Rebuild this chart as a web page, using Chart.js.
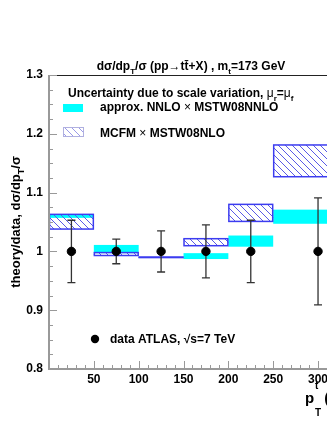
<!DOCTYPE html>
<html>
<head>
<meta charset="utf-8">
<script src="https://cdn.jsdelivr.net/npm/chart.js@4.4.1/dist/chart.umd.min.js"></script>
<style>
  html, body { margin:0; padding:0; background:#fff; }
  #c { display:block; }
</style>
</head>
<body>
<canvas id="c" width="327" height="423"></canvas>
<script>
// ----------------- DATA -----------------
const binLo  = [0, 50, 100, 150, 200, 250];
const binHi  = [50, 100, 150, 200, 250, 350];
const dataX  = [25, 75, 125, 175, 225, 300];
const dataY  = [1, 1, 1, 1, 1, 1];
const dataErr = [0.053, 0.021, 0.035, 0.045, 0.053, 0.091];
// approx. NNLO x MSTW08NNLO band
const nnloLo = [1.057, 0.997, 0.9895, 0.987, 1.008, 1.047];
const nnloHi = [1.063, 1.011, 0.9905, 0.997, 1.027, 1.071];
// MCFM x MSTW08NLO band
const mcfmLo = [1.038, 0.993, 0.9895, 1.0097, 1.051, 1.127];
const mcfmHi = [1.063, 0.998, 0.9905, 1.0216, 1.080, 1.181];
// axes
const xMin = 0, xMax = 310, xStep = 10;
const yMin = 0.8, yMax = 1.3, yStep = 0.025;
// ------------------------------------------

const FONT = 'Liberation Sans, Arial, sans-serif';
const CYAN = '#00ffff';
const BLUE = '#3c3cf0';

function makeHatch(color){
  const p = document.createElement('canvas');
  p.width = 7; p.height = 7;
  const g = p.getContext('2d');
  g.strokeStyle = color;
  g.lineWidth = 1;
  g.beginPath();
  g.moveTo(-1, -1); g.lineTo(8, 8);
  g.moveTo(-1, 6); g.lineTo(1, 8);
  g.moveTo(6, -1); g.lineTo(8, 1);
  g.stroke();
  return p;
}

// text with sub/superscripts: parts = [text, kind, font]
function richText(ctx, parts, x, y, size, align){
  const big = 'bold ' + size + 'px ' + FONT;
  const small = 'bold ' + Math.round(size * 0.7) + 'px ' + FONT;
  let w = 0;
  parts.forEach(p => { ctx.font = p[1] ? small : (p[2] || big); w += ctx.measureText(p[0]).width; });
  let cx = align === 'center' ? x - w / 2 : x;
  ctx.textAlign = 'left';
  ctx.textBaseline = 'alphabetic';
  parts.forEach(p => {
    ctx.font = p[1] ? small : (p[2] || big);
    let dy = 0;
    if (p[1] === 'sub') dy = size * 0.3;
    if (p[1] === 'sup') dy = -size * 0.45;
    ctx.fillText(p[0], cx, y + dy);
    cx += ctx.measureText(p[0]).width;
  });
  return w;
}

const bandsPlugin = {
  id: 'bands',
  beforeDatasetsDraw(chart){
    const {ctx, chartArea: a, scales: {x, y}} = chart;
    ctx.save();
    ctx.beginPath();
    ctx.rect(a.left, a.top, a.right - a.left, a.bottom - a.top);
    ctx.clip();
    // cyan NNLO bands
    ctx.fillStyle = CYAN;
    binLo.forEach((lo, i) => {
      const x0 = x.getPixelForValue(lo), x1 = x.getPixelForValue(binHi[i]);
      const y0 = y.getPixelForValue(nnloHi[i]), y1 = y.getPixelForValue(nnloLo[i]);
      ctx.fillRect(x0, y0, x1 - x0, Math.max(y1 - y0, 1));
    });
    // hatched MCFM bands
    const pat = ctx.createPattern(makeHatch('#5a5ae6'), 'repeat');
    binLo.forEach((lo, i) => {
      const x0 = x.getPixelForValue(lo), x1 = x.getPixelForValue(binHi[i]);
      const y0 = y.getPixelForValue(mcfmHi[i]), y1 = y.getPixelForValue(mcfmLo[i]);
      ctx.fillStyle = pat;
      ctx.fillRect(x0, y0, x1 - x0, y1 - y0);
      ctx.strokeStyle = BLUE;
      ctx.lineWidth = 1.5;
      ctx.strokeRect(x0 + 0.5, y0, x1 - x0 - 1, Math.max(y1 - y0, 0.5));
    });
    // error bars
    ctx.strokeStyle = '#333';
    ctx.lineWidth = 1.3;
    dataX.forEach((v, i) => {
      const px = x.getPixelForValue(v);
      const yt = y.getPixelForValue(dataY[i] + dataErr[i]);
      const yb = y.getPixelForValue(dataY[i] - dataErr[i]);
      ctx.beginPath();
      ctx.moveTo(px, yt); ctx.lineTo(px, yb);
      ctx.moveTo(px - 4, yt); ctx.lineTo(px + 4, yt);
      ctx.moveTo(px - 4, yb); ctx.lineTo(px + 4, yb);
      ctx.stroke();
    });
    ctx.restore();
  },
  afterDraw(chart){
    const {ctx, chartArea: a, scales: {x, y}} = chart;
    ctx.save();
    // frame
    ctx.strokeStyle = '#222';
    ctx.lineWidth = 1;
    ctx.beginPath();
    ctx.moveTo(a.left, a.top + 0.5); ctx.lineTo(a.right, a.top + 0.5);
    ctx.stroke();
    ctx.strokeStyle = '#999';
    ctx.lineWidth = 2;
    ctx.beginPath();
    ctx.moveTo(a.left, a.top); ctx.lineTo(a.left, a.bottom);
    ctx.lineTo(a.right, a.bottom);
    ctx.stroke();
    // inward ticks
    ctx.lineWidth = 1;
    ctx.beginPath();
    y.ticks.forEach(t => {
      const py = Math.round(y.getPixelForValue(t.value)) + 0.5;
      const major = Math.abs(t.value * 10 - Math.round(t.value * 10)) < 1e-6;
      ctx.moveTo(a.left, py); ctx.lineTo(a.left + (major ? 8 : 4), py);
    });
    x.ticks.forEach(t => {
      const px = Math.round(x.getPixelForValue(t.value)) + 0.5;
      const major = t.value % 50 === 0;
      ctx.moveTo(px, a.bottom); ctx.lineTo(px, a.bottom - (major ? 8 : 4));
    });
    ctx.stroke();

    ctx.fillStyle = '#000';
    // title
    richText(ctx, [['dσ/dp'], ['T', 'sub'], ['/σ (pp→t'], ['t̄'], ['+X) , m'], ['t', 'sub'], ['=173 GeV']], 191, 70, 12, 'center');
    richText(ctx, [['Uncertainty due to scale variation, '], ['μ', '', '12px ' + FONT], ['r', 'sub'], ['=', ''], ['μ', '', '12px ' + FONT], ['f', 'sub']], 68, 97, 12, 'left');
    // legend: NNLO
    ctx.fillStyle = CYAN;
    ctx.fillRect(63, 104, 20, 8);
    ctx.fillStyle = '#000';
    richText(ctx, [['approx. NNLO '], ['×', '', '12px ' + FONT], [' MSTW08NNLO']], 100, 111, 12, 'left');
    // legend: MCFM
    ctx.fillStyle = ctx.createPattern(makeHatch('#9a9ae8'), 'repeat');
    ctx.fillRect(63, 127, 21, 10);
    ctx.strokeStyle = '#b0b0e0';
    ctx.lineWidth = 1;
    ctx.strokeRect(63.5, 127.5, 20, 9);
    ctx.fillStyle = '#000';
    richText(ctx, [['MCFM '], ['×', '', '12px ' + FONT], [' MSTW08NLO']], 100, 137, 12, 'left');
    // legend: data
    ctx.beginPath();
    ctx.arc(95, 339, 4.2, 0, Math.PI * 2);
    ctx.fill();
    richText(ctx, [['data ATLAS, √s=7 TeV']], 110, 343, 12, 'left');
    // x axis title
    ctx.font = 'bold 15px ' + FONT;
    ctx.textAlign = 'left';
    ctx.fillText('p', 305, 403);
    ctx.font = 'bold 10px ' + FONT;
    ctx.fillText('t', 315, 389);
    ctx.fillText('T', 315, 416);
    ctx.font = 'bold 15px ' + FONT;
    ctx.fillText(' (GeV)', 320, 403);
    // y axis title
    ctx.translate(20, 222);
    ctx.rotate(-Math.PI / 2);
    richText(ctx, [['theory/data, dσ/dp'], ['T', 'sub'], ['/σ']], 0, 0, 13, 'center');
    ctx.restore();
  }
};

new Chart(document.getElementById('c'), {
  type: 'scatter',
  data: {
    datasets: [{
      label: 'data ATLAS',
      data: dataX.map((v, i) => ({x: v, y: dataY[i]})),
      backgroundColor: '#000',
      borderColor: '#000',
      pointRadius: 4.2,
      pointHoverRadius: 4.2
    }]
  },
  options: {
    responsive: false,
    animation: false,
    events: [],
    layout: { autoPadding: false, padding: { top: 75, right: 0, left: 0, bottom: 0 } },
    plugins: { legend: { display: false }, tooltip: { enabled: false } },
    scales: {
      x: {
        type: 'linear', min: xMin, max: xMax,
        grid: { display: false, drawTicks: false },
        border: { display: false },
        afterFit: s => { s.height = 54; s.paddingLeft = 0; s.paddingRight = 0; },
        ticks: {
          stepSize: xStep, autoSkip: false, maxRotation: 0, padding: 3,
          color: '#000', font: { family: FONT, size: 12, weight: 'bold' },
          callback: v => (v % 50 === 0 && v > 0) ? String(v) : ''
        }
      },
      y: {
        type: 'linear', min: yMin, max: yMax,
        grid: { display: false, drawTicks: false },
        border: { display: false },
        afterFit: s => { s.width = 49; s.paddingTop = 0; s.paddingBottom = 0; },
        ticks: {
          stepSize: yStep, autoSkip: false, padding: 6,
          color: '#000', font: { family: FONT, size: 12, weight: 'bold' },
          callback: v => Math.abs(v * 10 - Math.round(v * 10)) < 1e-6 ? String(Math.round(v * 10) / 10) : ''
        }
      }
    }
  },
  plugins: [bandsPlugin]
});
</script>
</body>
</html>
